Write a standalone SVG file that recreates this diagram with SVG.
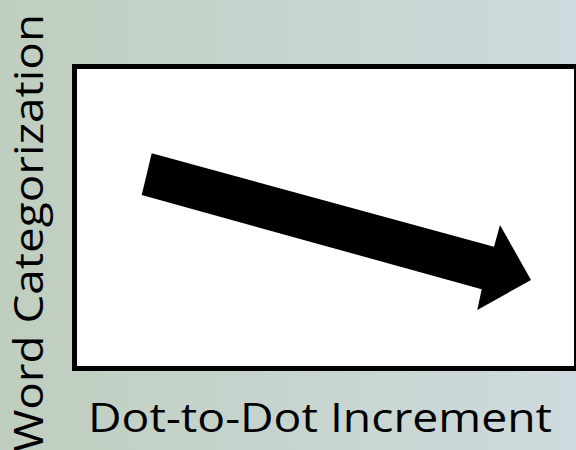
<svg xmlns="http://www.w3.org/2000/svg" width="576" height="450" viewBox="0 0 576 450">
  <defs>
    <linearGradient id="bg" x1="0" y1="0" x2="1" y2="0">
      <stop offset="0" stop-color="#bfcebf"/>
      <stop offset="1" stop-color="#cedadd"/>
    </linearGradient>
    <style>
      .lbl { font-family: "Open Sans", Lato, "Liberation Sans", sans-serif; font-size: 40px; fill: #000; }
    </style>
  </defs>
  <rect x="0" y="0" width="576" height="450" fill="url(#bg)"/>
  <g id="plot">
    <rect x="74.5" y="66.5" width="502" height="302" fill="#fff" stroke="#000" stroke-width="5"/>
  </g>
  <g id="connectors">
    <polygon points="151.7,153.3 494,246.7 500,225 531,280 477.3,310 481.7,289.3 141.7,195" fill="#000"/>
  </g>
  <g id="xlabel">
    <text class="lbl" x="88" y="432" textLength="464" lengthAdjust="spacingAndGlyphs">Dot-to-Dot Increment</text>
  </g>
  <g id="ylabel">
    <text class="lbl" transform="translate(43,452) rotate(-90)" x="0" y="0" textLength="438" lengthAdjust="spacingAndGlyphs">Word Categorization</text>
  </g>
</svg>
